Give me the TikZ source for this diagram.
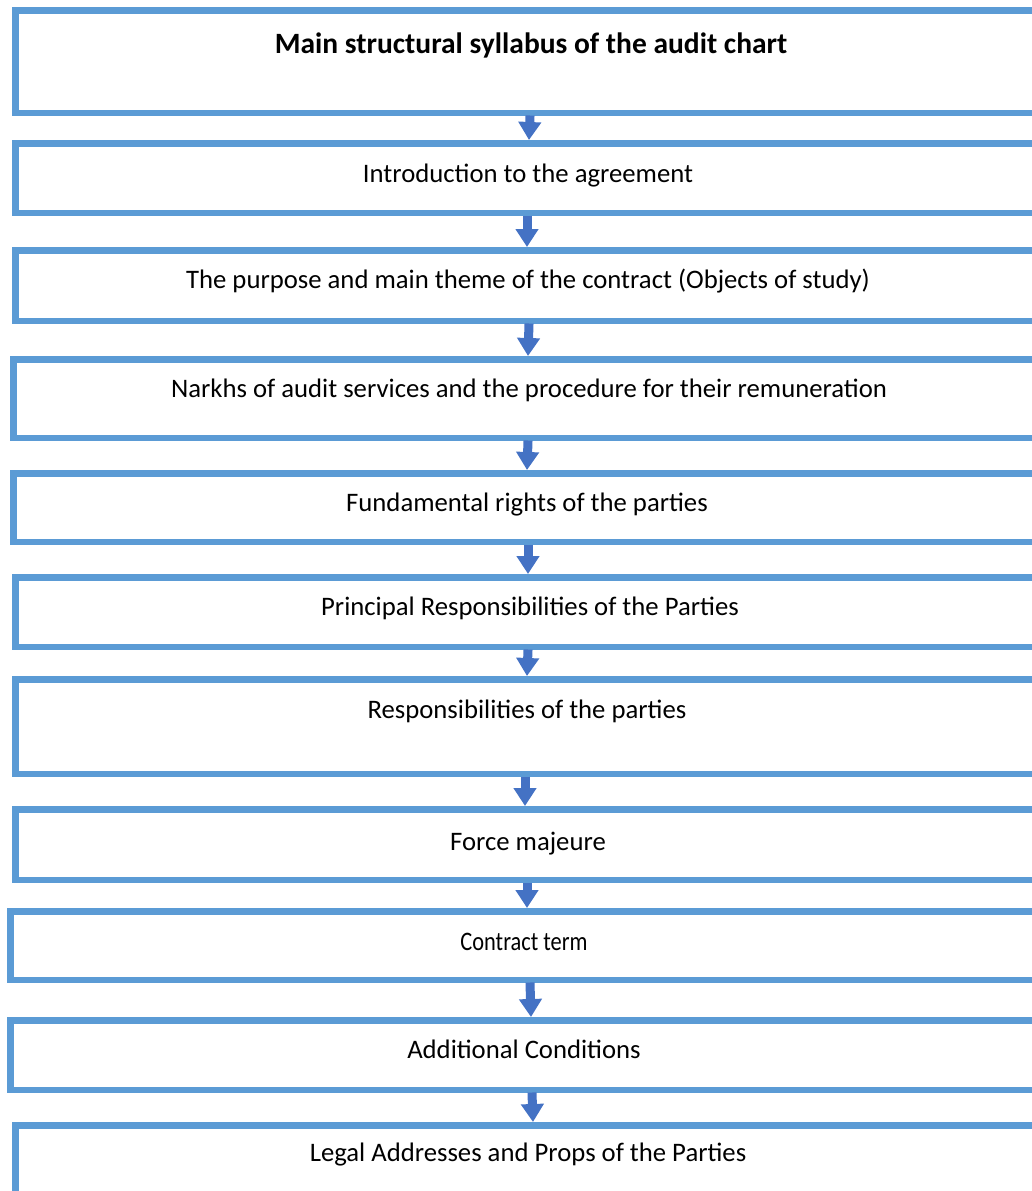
\documentclass[tikz,border=0pt]{standalone}
\usepackage{fontspec}
\setmainfont{Carlito}
\usetikzlibrary{arrows.meta}
\definecolor{boxblue}{HTML}{5B9BD5}
\definecolor{arrblue}{HTML}{4472C4}
\begin{document}
\begin{tikzpicture}[x=1pt,y=-1pt,
  stagebox/.style={draw=boxblue, line width=6.5pt, fill=white, rectangle, inner sep=0pt, anchor=north west},
  stagetext/.style={anchor=base, inner sep=0pt, font=\fontsize{26.7}{30}\selectfont, text=black},
  flowarrow/.style={draw=arrblue, line width=9pt, -{Triangle[width=22pt,length=18pt]}, shorten <=-0.5pt}
]
\useasboundingbox (0,0) rectangle (1032,1191);
\clip (0,0) rectangle (1032,1191);
% boxes: left, top, bottom ; right edge at 1045
\def\R{1045}
\node[stagebox, minimum width=\R-12-6.5, minimum height=116-7-6.5] (b1) at (12,7) {};
\node[stagebox, minimum width=\R-12-6.5, minimum height=216-140-6.5] (b2) at (12,140) {};
\node[stagebox, minimum width=\R-12-6.5, minimum height=324-247-6.5] (b3) at (12,247) {};
\node[stagebox, minimum width=\R-10-6.5, minimum height=441-356-6.5] (b4) at (10,356) {};
\node[stagebox, minimum width=\R-10-6.5, minimum height=545-470-6.5] (b5) at (10,470) {};
\node[stagebox, minimum width=\R-12-6.5, minimum height=650-574-6.5] (b6) at (12,574) {};
\node[stagebox, minimum width=\R-12-6.5, minimum height=777-676-6.5] (b7) at (12,676) {};
\node[stagebox, minimum width=\R-12-6.5, minimum height=883-806-6.5] (b8) at (12,806) {};
\node[stagebox, minimum width=\R-7-6.5, minimum height=983-908-6.5] (b9) at (7,908) {};
\node[stagebox, minimum width=\R-7-6.5, minimum height=1093-1017-6.5] (b10) at (7,1017) {};
\node[stagebox, minimum width=\R-12-6.5, minimum height=1240-1122-6.5] (b11) at (12,1122) {};
% texts
\node[stagetext, font=\fontsize{29.5}{34}\selectfont\bfseries] (t1) at (531,53) {Main structural syllabus of the audit chart};
\node[stagetext] (t2) at (528,182) {Introduction to the agreement};
\node[stagetext] (t3) at (528,288) {The purpose and main theme of the contract (Objects of study)};
\node[stagetext] (t4) at (529,397) {Narkhs of audit services and the procedure for their remuneration};
\node[stagetext] (t5) at (527,511) {Fundamental rights of the parties};
\node[stagetext] (t6) at (530,615) {Principal Responsibilities of the Parties};
\node[stagetext] (t7) at (527,718) {Responsibilities of the parties};
\node[stagetext] (t8) at (528,850) {Force majeure};
\node[stagetext] (t9) at (524,950) {\scalebox{0.84}[1]{Contract term}};
\node[stagetext] (t10) at (524,1058) {Additional Conditions};
\node[stagetext] (t11) at (528,1161) {Legal Addresses and Props of the Parties};
% arrows
\draw[flowarrow] (b1.south -| 530,0) -- (b2.north -| 529,0);
\draw[flowarrow] (b2.south -| 527,0) -- (b3.north -| 527,0);
\draw[flowarrow] (b3.south -| 529,0) -- (b4.north -| 528,0);
\draw[flowarrow] (b4.south -| 528,0) -- (b5.north -| 527,0);
\draw[flowarrow] (b5.south -| 528,0) -- (b6.north -| 528,0);
\draw[flowarrow] (b6.south -| 528,0) -- (b7.north -| 527,0);
\draw[flowarrow] (b7.south -| 525,0) -- (b8.north -| 525,0);
\draw[flowarrow] (b8.south -| 527,0) -- (b9.north -| 527,0);
\draw[flowarrow] (b9.south -| 530,0) -- (b10.north -| 531,0);
\draw[flowarrow] (b10.south -| 532,0) -- (b11.north -| 533,0);
\end{tikzpicture}
\end{document}
